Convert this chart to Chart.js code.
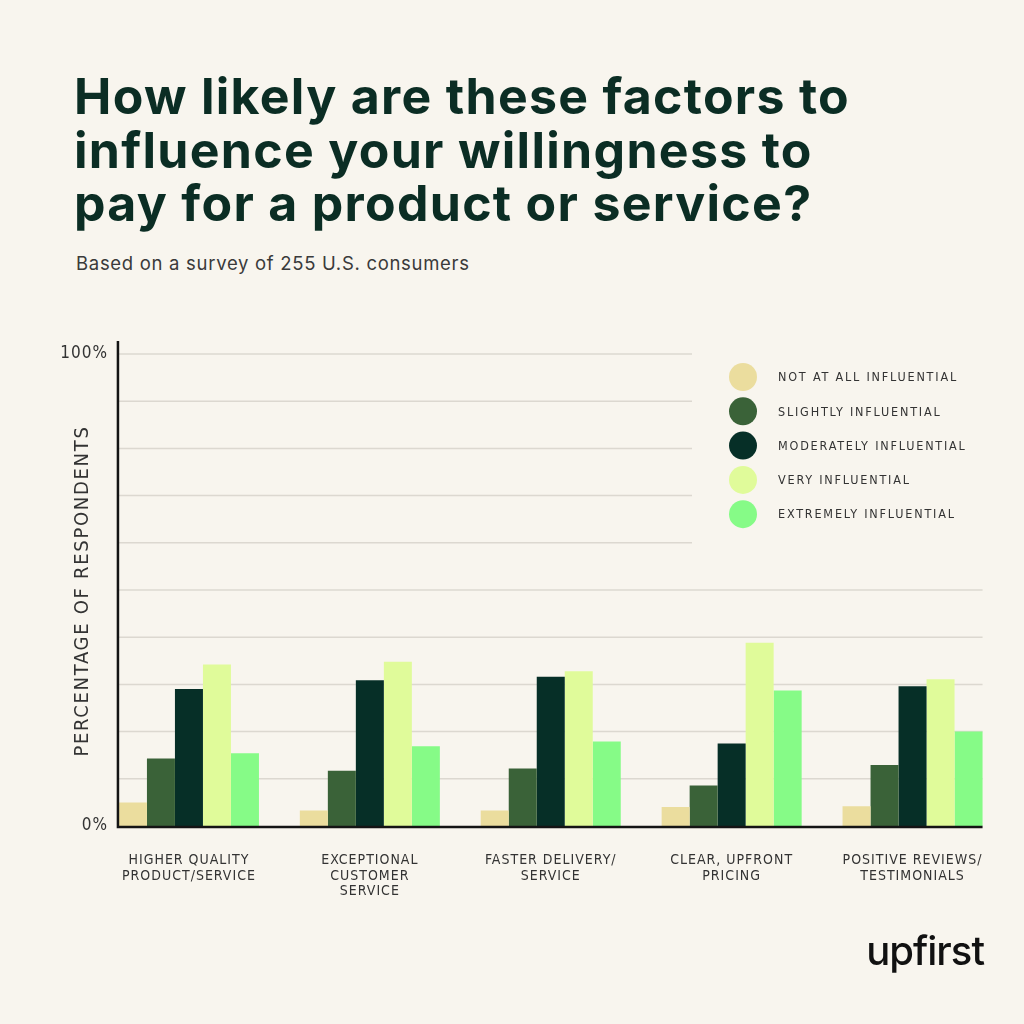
<!DOCTYPE html>
<html>
<head>
<meta charset="utf-8">
<script src="https://cdn.jsdelivr.net/npm/chart.js@4.4.1/dist/chart.umd.min.js"></script>
<style>
  html, body { margin: 0; padding: 0; background: #f8f5ee; }
  #wrap { position: relative; width: 1024px; height: 1024px; overflow: hidden; }
  h1 {
    position: absolute; left: 74px; top: 70px; margin: 0;
    font-family: Inter, sans-serif; font-weight: 700; font-size: 50px;
    line-height: 53.5px; letter-spacing: 1.3px; color: #0b2d24;
  }
  .sub {
    position: absolute; left: 76px; top: 252px;
    font-family: Inter, sans-serif; font-size: 18.5px; letter-spacing: 0.7px; color: #3a3a3a;
  }
  .logo {
    position: absolute; right: 40px; top: 926px;
    font-family: Inter, sans-serif; font-weight: 500; font-size: 40px;
    letter-spacing: -1px; color: #111;
  }
  canvas { position: absolute; left: 0; top: 0; }
</style>
</head>
<body>
<div id="wrap">
  <h1>How likely are these factors to<br>influence your willingness to<br>pay for a product or service?</h1>
  <div class="sub">Based on a survey of 255 U.S. consumers</div>
  <canvas id="chart" width="1024" height="1024"></canvas>
  <div class="logo">upfirst</div>
</div>
<script>
// categories (x-axis labels, multi-line)
const categories = [
  ['HIGHER QUALITY', 'PRODUCT/SERVICE'],
  ['EXCEPTIONAL', 'CUSTOMER', 'SERVICE'],
  ['FASTER DELIVERY/', 'SERVICE'],
  ['CLEAR, UPFRONT', 'PRICING'],
  ['POSITIVE REVIEWS/', 'TESTIMONIALS']
];

const seriesNames = [
  'NOT AT ALL INFLUENTIAL',
  'SLIGHTLY INFLUENTIAL',
  'MODERATELY INFLUENTIAL',
  'VERY INFLUENTIAL',
  'EXTREMELY INFLUENTIAL'
];
const seriesColors = ['#ebdd9e', '#3a6238', '#062f27', '#e0fb9a', '#86fb87'];

// percent of respondents
const notAtAll   = [5.0, 3.3, 3.3, 4.0, 4.2];
const slightly   = [14.3, 11.7, 12.2, 8.6, 12.9];
const moderately = [29.0, 30.9, 31.6, 17.5, 29.6];
const very       = [34.2, 34.8, 32.8, 38.8, 31.1];
const extremely  = [15.4, 16.9, 17.9, 28.7, 20.0];

const yTickLabels = [0, 100];

const seriesValues = [notAtAll, slightly, moderately, very, extremely];

const LABEL_FONT = '"Liberation Sans Narrow", "DejaVu Sans Condensed", "Liberation Sans", sans-serif';

// gridlines, axis lines, y labels/title and the legend
const decorPlugin = {
  id: 'decor',
  beforeDraw(chart) {
    chart.ctx.letterSpacing = '1px';
  },
  beforeDatasetsDraw(chart) {
    const ctx = chart.ctx;
    const x = chart.scales.x, y = chart.scales.y;
    const step = x.getPixelForValue(1) - x.getPixelForValue(0);
    const groupHalf = step * chart.options.datasets.bar.categoryPercentage / 2;
    const left = x.getPixelForValue(0) - groupHalf;
    const right = x.getPixelForValue(categories.length - 1) + groupHalf;
    const legendLeft = 692;
    ctx.save();
    ctx.strokeStyle = '#dcd8d0';
    ctx.lineWidth = 1.5;
    y.ticks.forEach(t => {
      if (t.value === 0) return;
      const py = y.getPixelForValue(t.value);
      ctx.beginPath();
      ctx.moveTo(left, py);
      ctx.lineTo(t.value >= 60 ? legendLeft : right, py);
      ctx.stroke();
    });
    ctx.restore();
    chart.$axisBox = { left, right };
  },
  afterDatasetsDraw(chart) {
    const ctx = chart.ctx;
    const y = chart.scales.y;
    const { left, right } = chart.$axisBox;
    const base = y.getPixelForValue(0);
    ctx.save();
    ctx.strokeStyle = '#141414';
    ctx.lineWidth = 2.5;
    ctx.beginPath();
    ctx.moveTo(left - 1, y.getPixelForValue(100) - 13);
    ctx.lineTo(left - 1, base + 1);
    ctx.lineTo(right, base + 1);
    ctx.stroke();

    // y tick labels
    ctx.fillStyle = '#333';
    ctx.font = '17px ' + LABEL_FONT;
    ctx.letterSpacing = '1px';
    ctx.textAlign = 'right';
    ctx.textBaseline = 'middle';
    yTickLabels.forEach(v => {
      ctx.fillText(v + '%', left - 11, y.getPixelForValue(v));
    });

    // y axis title
    ctx.font = '20px ' + LABEL_FONT;
    ctx.letterSpacing = '1.7px';
    ctx.textAlign = 'center';
    ctx.translate(83, (y.top + y.bottom) / 2 + 1);
    ctx.rotate(-Math.PI / 2);
    ctx.fillText('PERCENTAGE OF RESPONDENTS', 0, 0);
    ctx.restore();

    // legend
    ctx.save();
    ctx.font = '12.5px ' + LABEL_FONT;
    ctx.letterSpacing = '1.8px';
    ctx.textAlign = 'left';
    ctx.textBaseline = 'middle';
    chart.data.datasets.forEach((ds, i) => {
      const cy = 377 + i * 34.3;
      ctx.fillStyle = ds.backgroundColor;
      ctx.beginPath();
      ctx.arc(743, cy, 14, 0, Math.PI * 2);
      ctx.fill();
      ctx.fillStyle = '#333';
      ctx.fillText(ds.label, 778, cy + 1);
    });
    ctx.restore();
  }
};

new Chart(document.getElementById('chart'), {
  type: 'bar',
  data: {
    labels: categories,
    datasets: seriesNames.map((name, i) => ({
      label: name,
      data: seriesValues[i],
      backgroundColor: seriesColors[i],
      borderWidth: 0
    }))
  },
  options: {
    responsive: false,
    animation: false,
    devicePixelRatio: 1,
    datasets: { bar: { categoryPercentage: 0.774, barPercentage: 1 } },
    layout: { padding: { left: 0, right: 21, top: 354, bottom: 0 } },
    plugins: { legend: { display: false }, tooltip: { enabled: false } },
    scales: {
      x: {
        grid: { display: false, drawTicks: false },
        border: { display: false },
        ticks: {
          color: '#333',
          padding: 27,
          maxRotation: 0,
          autoSkip: false,
          font: { family: LABEL_FONT, size: 14, lineHeight: 1.1 }
        },
        afterFit(scale) { scale.height = 198; }
      },
      y: {
        min: 0,
        max: 100,
        grid: { display: false, drawTicks: false },
        border: { display: false },
        ticks: { stepSize: 10, display: false },
        afterFit(scale) { scale.width = 98.5; }
      }
    }
  },
  plugins: [decorPlugin]
});
</script>
</body>
</html>
